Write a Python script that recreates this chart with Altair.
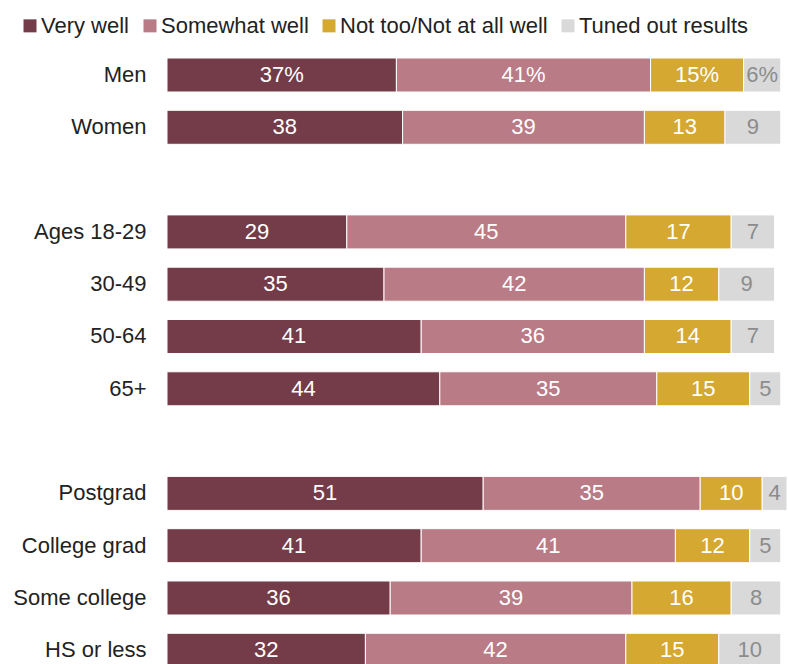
import altair as alt
import pandas as pd

groups = ["Men", "Women", "Ages 18-29", "30-49", "50-64", "65+",
          "Postgrad", "College grad", "Some college", "HS or less"]
very_well = [37, 38, 29, 35, 41, 44, 51, 41, 36, 32]
somewhat_well = [41, 39, 45, 42, 36, 35, 35, 41, 39, 42]
not_well = [15, 13, 17, 12, 14, 15, 10, 12, 16, 15]
tuned_out = [6, 9, 7, 9, 7, 5, 4, 5, 8, 10]
categories = ["Very well", "Somewhat well", "Not too/Not at all well", "Tuned out results"]
colors = ["#733c48", "#b97b85", "#d4a831", "#d9d9d9"]
row_order = ["Men", "Women", " ", "Ages 18-29", "30-49", "50-64", "65+", "  ",
             "Postgrad", "College grad", "Some college", "HS or less"]

FONT = "Liberation Sans"

rows = []
for i, g in enumerate(groups):
    vals = [very_well[i], somewhat_well[i], not_well[i], tuned_out[i]]
    for j, (c, v) in enumerate(zip(categories, vals)):
        rows.append(dict(group=g, category=c, order=j, value=v,
                         label=(f"{v}%" if i == 0 else str(v))))
df = pd.DataFrame(rows)

base = alt.Chart(df).transform_stack(
    stack="value", groupby=["group"], as_=["x0", "x1"],
    sort=[alt.SortField("order", order="ascending")]
).transform_calculate(mid="(datum.x0 + datum.x1) / 2")

yenc = alt.Y("group:N",
             scale=alt.Scale(domain=row_order, paddingInner=0.35, paddingOuter=0.175),
             axis=alt.Axis(title=None, domain=False, ticks=False, grid=False,
                           labelPadding=21, labelFontSize=22, labelColor="#222222",
                           labelFont=FONT))
xscale = alt.Scale(domain=[0, 100], nice=False, zero=True)

bars = base.mark_bar(stroke="white", strokeWidth=1).encode(
    x=alt.X("x0:Q", scale=xscale, axis=None),
    x2="x1:Q",
    y=yenc,
    color=alt.Color("category:N",
                    scale=alt.Scale(domain=categories, range=colors),
                    legend=alt.Legend(orient="none", legendX=-148, legendY=-34,
                                      direction="horizontal", title=None,
                                      symbolType="square", symbolSize=169,
                                      symbolStrokeWidth=0, labelFontSize=22,
                                      labelFont=FONT, labelColor="#222222",
                                      labelOffset=0, columnPadding=9, padding=0,
                                      labelLimit=400)),
)

text = base.mark_text(fontSize=22, font=FONT, baseline="middle").encode(
    x=alt.X("mid:Q", scale=xscale, axis=None),
    y=alt.Y("group:N", scale=alt.Scale(domain=row_order)),
    text="label:N",
    color=alt.condition("datum.category === 'Tuned out results'",
                        alt.value("#8c8c8c"), alt.value("white")),
)

chart = alt.layer(bars, text).properties(
    width=620, height=627.6,
    autosize=alt.AutoSizeParams(type="none"),
    padding={"left": 167, "top": 48.85, "right": 0, "bottom": 0},
).configure_view(stroke=None)

chart.save("out.html", embed_options={"renderer": "svg", "actions": False})
